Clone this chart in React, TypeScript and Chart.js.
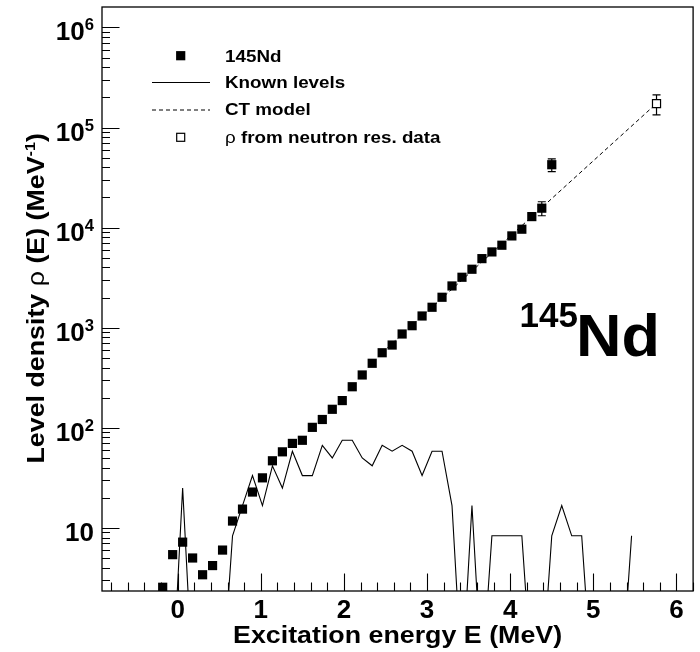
import React, { useEffect, useRef } from "react";
import { Chart, registerables } from "chart.js";

Chart.register(...registerables);

const FONT = '"Liberation Sans", Arial, Helvetica, sans-serif';

// ---------- data ----------
const energies = [
  -0.18, -0.06, 0.06, 0.18, 0.3, 0.42, 0.54, 0.66, 0.78, 0.9,
  1.02, 1.14, 1.26, 1.38, 1.5, 1.62, 1.74, 1.86, 1.98, 2.1,
  2.22, 2.34, 2.46, 2.58, 2.7, 2.82, 2.94, 3.06, 3.18, 3.3,
  3.42, 3.54, 3.66, 3.78, 3.9, 4.02, 4.14, 4.26, 4.38, 4.5,
];
const rho = [
  2.55, 5.4, 7.2, 5.0, 3.4, 4.2, 6.0, 11.7, 15.4, 22.8,
  31.6, 46.8, 57.5, 69.8, 75, 101, 121, 153, 187, 257,
  337, 441, 562, 671, 865, 1047, 1309, 1600, 2014, 2612,
  3191, 3837, 4898, 5715, 6668, 8260, 9640, 12880, 15630, 42500,
];
const rhoErr = [
  0, 0, 0, 0, 0, 0, 0, 0, 0, 0,
  0, 0, 0, 0, 0, 0, 0, 0, 0, 0,
  0, 0, 0, 0, 0, 0, 0, 0, 0, 0,
  0, 0, 0, 0, 0, 0, 0, 0, 2500, 6200,
];

const levelEnergies = [
  -0.18, -0.06, 0.06, 0.18, 0.3, 0.42, 0.54, 0.66, 0.78, 0.9,
  1.02, 1.14, 1.26, 1.38, 1.5, 1.62, 1.74, 1.86, 1.98, 2.1,
  2.22, 2.34, 2.46, 2.58, 2.7, 2.82, 2.94, 3.06, 3.18, 3.3,
  3.42, 3.54, 3.66, 3.78, 3.9, 4.02, 4.14, 4.26, 4.38, 4.5,
  4.62, 4.74, 4.86, 4.98, 5.1, 5.22, 5.34, 5.46,
];
const levelRho = [
  0, 0, 25, 0, 0, 0, 0, 8.33, 16.7, 33.3,
  16.7, 41.7, 25, 58.3, 33.3, 33.3, 66.7, 50, 75, 75,
  50, 41.7, 66.7, 58.3, 66.7, 58.3, 33.3, 58.3, 58.3, 16.7,
  0, 16.7, 0, 8.33, 8.33, 8.33, 8.33, 0, 0, 8.33,
  16.7, 8.33, 8.33, 0, 0, 0, 0, 8.33,
];

const ctEnergies = [2.46, 5.76];
const ctRho = [565, 174000];

const snEnergy = [5.76];
const snRho = [173000];
const snErr = [39000];

const xTickLabels = [0, 1, 2, 3, 4, 5, 6];
const yExponents = [1, 2, 3, 4, 5, 6];

const X_MIN = -0.91;
const X_MAX = 6.2;
const Y_MIN = 2.34;
const Y_MAX = 1.6e6;
const ZERO_FLOOR = 0.3; // empty bins drawn below the axis floor

// ---------- text helper ----------
type Seg = { t: string; size: number; bold?: boolean; dy?: number };
function drawRich(
  ctx: CanvasRenderingContext2D,
  segs: Seg[],
  x: number,
  y: number,
  align: "left" | "center" | "right",
  sx: number,
  rot = 0
) {
  ctx.save();
  ctx.translate(x, y);
  if (rot) ctx.rotate(rot);
  ctx.scale(sx, 1);
  ctx.textAlign = "left";
  ctx.textBaseline = "alphabetic";
  ctx.fillStyle = "#000";
  const fontOf = (s: Seg) => `${s.bold === false ? "normal" : "bold"} ${s.size}px ${FONT}`;
  const widths = segs.map((s) => {
    ctx.font = fontOf(s);
    return ctx.measureText(s.t).width;
  });
  const total = widths.reduce((a, b) => a + b, 0);
  let cx = align === "left" ? 0 : align === "right" ? -total : -total / 2;
  segs.forEach((s, i) => {
    ctx.font = fontOf(s);
    ctx.fillText(s.t, cx, s.dy || 0);
    cx += widths[i];
  });
  ctx.restore();
}

const rootPlugin = {
  id: "rootDecor",
  beforeDatasetsDraw(chart: any) {
    const ctx: CanvasRenderingContext2D = chart.ctx;
    const xs = chart.scales.x;
    const ys = chart.scales.y;
    ctx.save();
    ctx.strokeStyle = "#000";
    ctx.lineWidth = 1.2;
    const bar = (x: number, v: number, e: number) => {
      const px = xs.getPixelForValue(x);
      const y1 = ys.getPixelForValue(v - e);
      const y2 = ys.getPixelForValue(v + e);
      ctx.beginPath();
      ctx.moveTo(px, y1);
      ctx.lineTo(px, y2);
      ctx.moveTo(px - 4, y1);
      ctx.lineTo(px + 4, y1);
      ctx.moveTo(px - 4, y2);
      ctx.lineTo(px + 4, y2);
      ctx.stroke();
    };
    energies.forEach((x, i) => {
      if (rhoErr[i] > 0) bar(x, rho[i], rhoErr[i]);
    });
    snEnergy.forEach((x, i) => bar(x, snRho[i], snErr[i]));
    ctx.restore();
  },
  afterDraw(chart: any) {
    const ctx: CanvasRenderingContext2D = chart.ctx;
    const xs = chart.scales.x;
    const ys = chart.scales.y;
    const { left, right, top, bottom } = chart.chartArea;
    ctx.save();
    // frame
    ctx.strokeStyle = "#000";
    ctx.lineWidth = 1.3;
    ctx.strokeRect(left, top, right - left, bottom - top);
    // x ticks (inward)
    ctx.lineWidth = 1.1;
    ctx.beginPath();
    for (let k = -5; k <= 35; k++) {
      const v = k * 0.2;
      if (v < X_MIN || v > X_MAX) continue;
      const px = Math.round(xs.getPixelForValue(v)) + 0.5;
      const len = k % 5 === 0 ? 17.5 : 8.5;
      ctx.moveTo(px, bottom);
      ctx.lineTo(px, bottom - len);
    }
    // y ticks (inward)
    for (let e = 0; e <= 6; e++) {
      for (let m = 1; m <= 9; m++) {
        const v = m * Math.pow(10, e);
        if (v < Y_MIN || v > Y_MAX) continue;
        const py = Math.round(ys.getPixelForValue(v)) + 0.5;
        const len = m === 1 ? 17.5 : 8;
        ctx.moveTo(left, py);
        ctx.lineTo(left + len, py);
      }
    }
    ctx.stroke();

    // x tick labels
    xTickLabels.forEach((v) => {
      const px = xs.getPixelForValue(v);
      drawRich(ctx, [{ t: String(v), size: 25 }], px, 618, "center", 1.04);
    });
    // y tick labels
    yExponents.forEach((e) => {
      const py = ys.getPixelForValue(Math.pow(10, e));
      const segs: Seg[] = [{ t: "10", size: 25 }];
      if (e > 1) segs.push({ t: String(e), size: 16, dy: -10 });
      drawRich(ctx, segs, 94, py + 13, "right", 1.04);
    });

    // axis titles
    drawRich(ctx, [{ t: "Excitation energy E (MeV)", size: 23 }], (left + right) / 2, 643, "center", 1.165);
    drawRich(
      ctx,
      [
        { t: "Level density ", size: 23 },
        { t: "ρ", size: 23, bold: false },
        { t: " (E) (MeV", size: 23 },
        { t: "-1", size: 14, dy: -9 },
        { t: ")", size: 23 },
      ],
      43.5,
      463.5,
      "left",
      1.165,
      -Math.PI / 2
    );

    // legend
    const lx = 225;
    const lf = 16.5;
    const off = 5.9;
    ctx.fillStyle = "#000";
    ctx.fillRect(180.7 - 4.6, 55.7 - 4.6, 9.2, 9.2);
    drawRich(ctx, [{ t: "145Nd", size: lf }], lx, 55.7 + off, "left", 1.14);
    ctx.lineWidth = 1.1;
    ctx.beginPath();
    ctx.moveTo(152, 82.5);
    ctx.lineTo(210, 82.5);
    ctx.stroke();
    drawRich(ctx, [{ t: "Known levels", size: lf }], lx, 81.7 + off, "left", 1.14);
    ctx.setLineDash([4, 3]);
    ctx.beginPath();
    ctx.moveTo(152, 110);
    ctx.lineTo(210, 110);
    ctx.stroke();
    ctx.setLineDash([]);
    drawRich(ctx, [{ t: "CT model", size: lf }], lx, 109 + off, "left", 1.14);
    ctx.fillStyle = "#fff";
    ctx.fillRect(180.7 - 4, 137.3 - 4, 8, 8);
    ctx.strokeStyle = "#000";
    ctx.lineWidth = 1.2;
    ctx.strokeRect(180.7 - 4, 137.3 - 4, 8, 8);
    drawRich(
      ctx,
      [
        { t: "ρ", size: lf, bold: false },
        { t: " from neutron res. data", size: lf },
      ],
      lx,
      137.3 + off,
      "left",
      1.14
    );

    // nucleus label
    drawRich(ctx, [{ t: "145", size: 35 }], 519.5, 326.7, "left", 1.0);
    drawRich(ctx, [{ t: "Nd", size: 60 }], 576, 356, "left", 1.05);
    ctx.restore();
  },
};

export default function App() {
  const ref = useRef<HTMLCanvasElement>(null);
  useEffect(() => {
    const canvas = ref.current;
    if (!canvas) return;
    const chart = new Chart(canvas, {
      type: "scatter",
      data: {
        datasets: [
          {
            label: "145Nd",
            data: energies.map((x, i) => ({ x, y: rho[i] })),
            pointStyle: "rect",
            pointRadius: 6.5,
            pointHoverRadius: 6.5,
            backgroundColor: "#000",
            borderColor: "#000",
            borderWidth: 0,
            showLine: false,
            order: 0,
          },
          {
            label: "ρ from neutron res. data",
            data: snEnergy.map((x, i) => ({ x, y: snRho[i] })),
            pointStyle: "rect",
            pointRadius: 5.7,
            pointHoverRadius: 5.7,
            backgroundColor: "#fff",
            borderColor: "#000",
            borderWidth: 1.2,
            showLine: false,
            order: 1,
          },
          {
            label: "CT model",
            data: ctEnergies.map((x, i) => ({ x, y: ctRho[i] })),
            showLine: true,
            borderColor: "#000",
            borderWidth: 1,
            borderDash: [4, 3],
            pointRadius: 0,
            fill: false,
            order: 2,
          },
          {
            label: "Known levels",
            data: levelEnergies.map((x, i) => ({ x, y: levelRho[i] > 0 ? levelRho[i] : ZERO_FLOOR })),
            showLine: true,
            borderColor: "#000",
            borderWidth: 1.1,
            pointRadius: 0,
            fill: false,
            tension: 0,
            order: 3,
          },
        ],
      },
      options: {
        animation: false,
        responsive: false,
        maintainAspectRatio: false,
        events: [],
        layout: { padding: { left: 102, right: 5, top: 7, bottom: 61 } },
        scales: {
          x: { type: "linear", min: X_MIN, max: X_MAX, display: false },
          y: { type: "logarithmic", min: Y_MIN, max: Y_MAX, display: false },
        },
        plugins: { legend: { display: false }, tooltip: { enabled: false } },
      },
      plugins: [rootPlugin],
    } as any);
    return () => chart.destroy();
  }, []);
  return (
    <div style={{ position: "absolute", left: 0, top: 0, width: 700, height: 652, background: "#fff" }}>
      <canvas ref={ref} width={700} height={652} style={{ display: "block", width: 700, height: 652 }} />
    </div>
  );
}
